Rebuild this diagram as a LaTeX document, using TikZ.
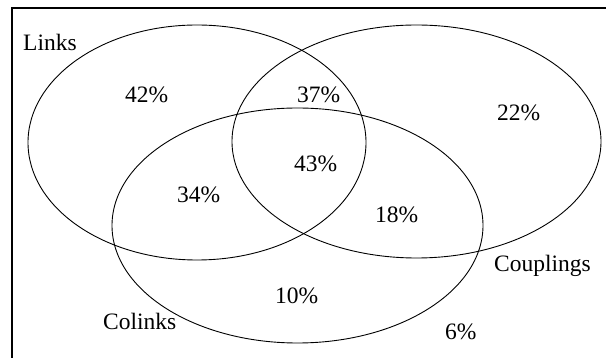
\documentclass[tikz,border=0pt]{standalone}
\usepackage{fontspec}
\setmainfont{Liberation Serif}
\usepackage{tikz}
\usetikzlibrary{positioning}

\tikzset{
  setline/.style={draw, line width=0.9pt},
  lbl/.style={anchor=base west, inner sep=0pt, font=\fontsize{23.5}{28}\selectfont},
}

\begin{document}
\begin{tikzpicture}[x=1pt, y=-1pt]
\useasboundingbox (0,0) rectangle (606,358);
% frame: only left and top edges show
\draw[line width=1.5pt] (12,358) -- (12,8) -- (606,8);
% the three sets
\draw[setline] (197,142.5) ellipse [x radius=169, y radius=117.5];
\draw[setline] (416.5,141.5) ellipse [x radius=184.5, y radius=116.5];
\draw[setline] (297.5,225.5) ellipse [x radius=185.5, y radius=117.5];
% set names
\node[lbl] (links) at (23,51) {Links};
\node[lbl] (couplings) at (494,272) {Couplings};
\node[lbl] (colinks) at (103,330) {Colinks};
% shares per region
\foreach \name/\x/\y/\val in {onlyL/125/103/42, LC/297/103/37, onlyC/497/121/22,
    LCK/294/172/43, LK/177/203/34, CK/375/223/18, onlyK/275/304/10, none/445/340/6}{
  \node[lbl] (\name) at (\x,\y) {\val\%};
}
\end{tikzpicture}
\end{document}
